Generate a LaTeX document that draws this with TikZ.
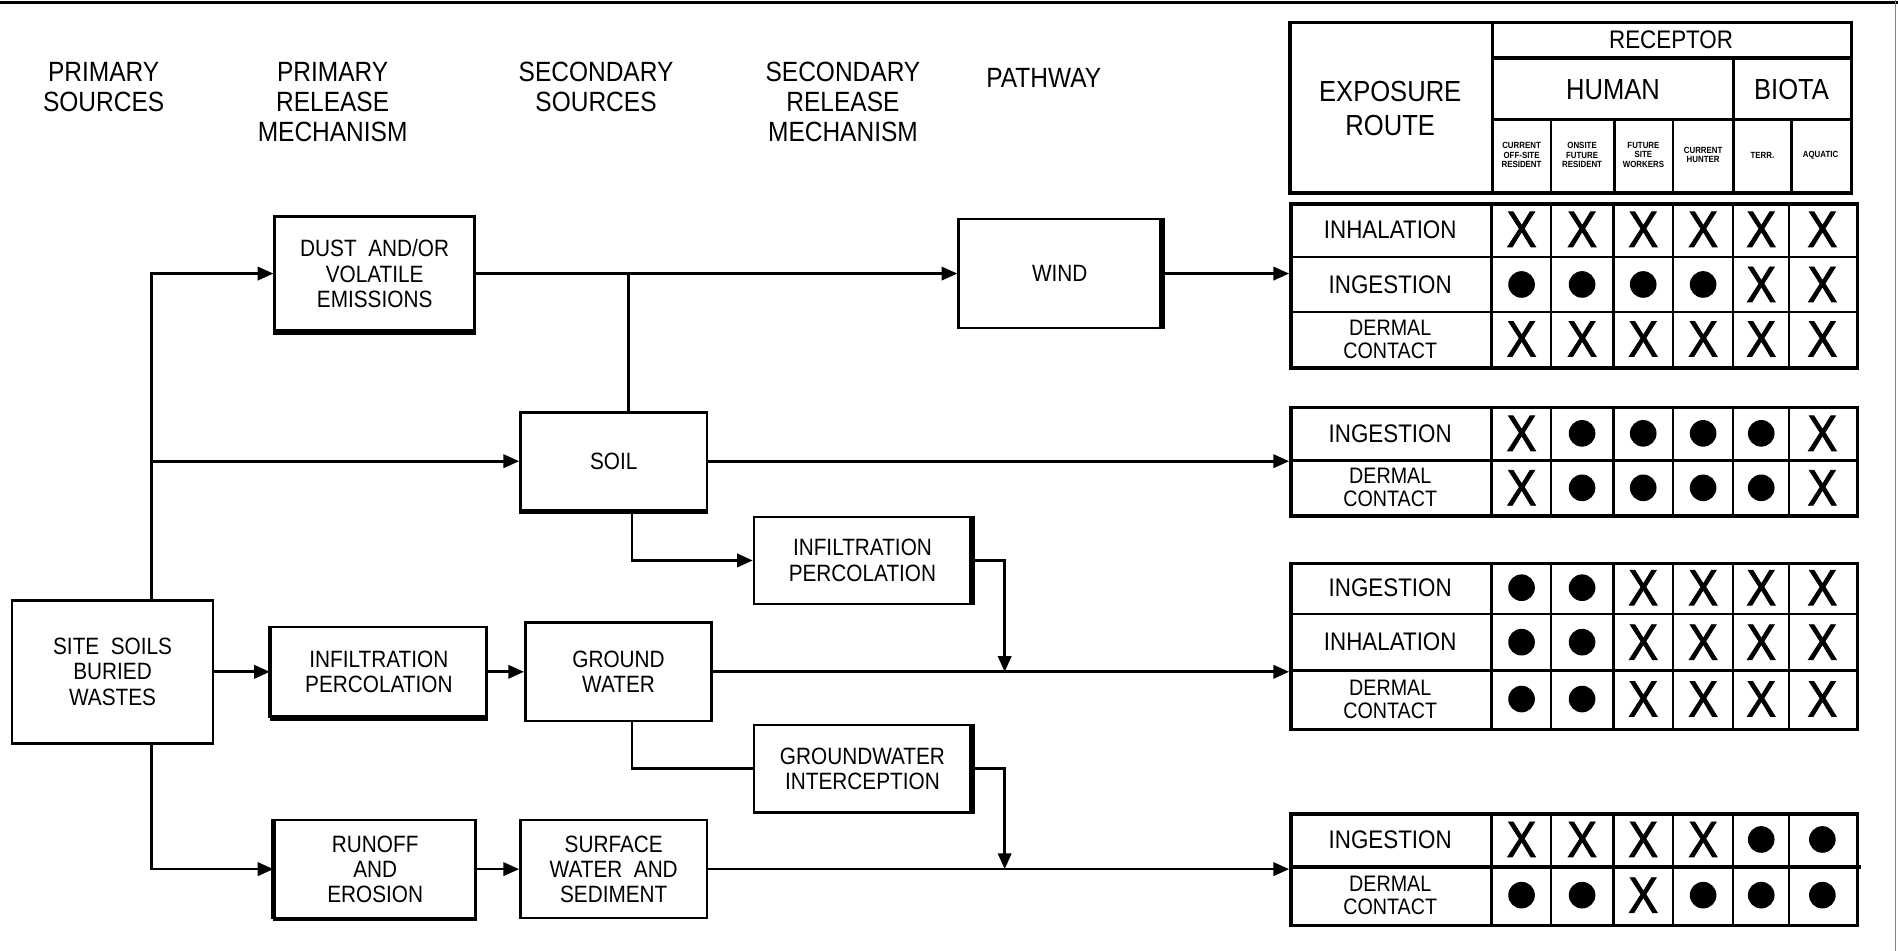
\documentclass[tikz,border=0pt]{standalone}
\usepackage{fontspec}
\setmainfont{Liberation Sans}[FakeStretch=0.88]
\usetikzlibrary{arrows.meta}
\newcommand\mk[4]{\if#4D\node[dotmk] (#1) at (#2,#3) {};\else\node[xmk] (#1) at (#2,#3) {X};\fi}
\newcommand\markrow[8]{\mk{#1a}{1257}{#2}{#3}\mk{#1b}{1307}{#2}{#4}\mk{#1c}{1357.5}{#2}{#5}\mk{#1d}{1407}{#2}{#6}\mk{#1e}{1455}{#2}{#7}\mk{#1f}{1505.5}{#2}{#8}}
\newcommand\tgrid[2]{\draw[line width=2.6pt] (1232,#1) -- (1232,#2);\foreach \xx in {1281,1333,1382,1432,1478} {\draw[gridl] (\xx,#1) -- (\xx,#2);}}
\begin{document}
\begin{tikzpicture}[x=1pt,y=-1pt,
  hdr/.style={align=center,inner sep=0pt,font=\fontsize{23}{24.8}\selectfont},
  box/.style={draw,line width=2.2pt,align=center,inner sep=0pt,font=\fontsize{19.5}{20.8}\selectfont},
  tab/.style={draw,line width=3pt,inner sep=0pt,anchor=north west,minimum width=468pt},
  gridl/.style={line width=1.8pt},
  lbl/.style={align=center,inner sep=0pt,font=\fontsize{21}{21}\selectfont},
  lbls/.style={align=center,inner sep=0pt,font=\fontsize{18.5}{19}\selectfont},
  tiny/.style={align=center,inner sep=0pt,font=\bfseries\fontsize{7.4}{7.6}\selectfont},
  xmk/.style={inner sep=0pt,font=\fontsize{42}{42}\selectfont\addfontfeature{FakeBold=1.6}},
  dotmk/.style={circle,fill=black,minimum width=21pt,minimum height=22pt,inner sep=0pt},
  conn/.style={line width=2.2pt},
  arr/.style={line width=2.2pt,-{Triangle[length=13pt,width=11pt]}},
  thk/.style={line width=4.5pt}]
\useasboundingbox (0,0) rectangle (1568,785.6);
% page frame
\draw[line width=3pt] (0,2) -- (1568,2);
\draw[line width=1pt,gray] (1566,0) -- (1566,785.6);

% column headings
\node[hdr] (h1) at (85.6,71.6) {PRIMARY\\SOURCES};
\node[hdr] (h2) at (274.8,84.3) {PRIMARY\\RELEASE\\MECHANISM};
\node[hdr] (h3) at (492.4,71.6) {SECONDARY\\SOURCES};
\node[hdr] (h4) at (696.4,84.3) {SECONDARY\\RELEASE\\MECHANISM};
\node[hdr] (h5) at (862.3,64.7) {PATHWAY};

% header table
\node[draw,line width=3.2pt,inner sep=0pt,anchor=north west,minimum width=464pt,minimum height=140.5pt] (ht) at (1064,17) {};
\draw[line width=2.6pt] (1233,17) -- (1233,157.5);
\draw[line width=3pt] (1233,48) -- (1528,48);
\draw[line width=2pt] (1233,98.6) -- (1528,98.6);
\draw[line width=2.6pt] (1432,48) -- (1432,157.5);
\foreach \xx in {1281,1382,1480} {\draw[line width=1.8pt] (\xx,98.6) -- (\xx,157.5);}
\draw[line width=2.6pt] (1333.5,98.6) -- (1333.5,157.5);
\node[align=center,inner sep=0pt,font=\fontsize{24}{28}\selectfont] (er) at (1148.5,89.7) {EXPOSURE\\ROUTE};
\node[inner sep=0pt,font=\fontsize{21}{21}\selectfont] (rc) at (1380.5,33) {RECEPTOR};
\node[inner sep=0pt,font=\fontsize{24}{24}\selectfont] (hu) at (1332.5,74) {HUMAN};
\node[inner sep=0pt,font=\fontsize{24}{24}\selectfont] (bi) at (1480,74) {BIOTA};
\node[tiny] (s1) at (1257,128) {CURRENT\\OFF-SITE\\RESIDENT};
\node[tiny] (s2) at (1307,128) {ONSITE\\FUTURE\\RESIDENT};
\node[tiny] (s3) at (1357.7,128) {FUTURE\\SITE\\WORKERS};
\node[tiny] (s4) at (1407,128) {CURRENT\\HUNTER};
\node[tiny] (s5) at (1456,128) {TERR.};
\node[tiny] (s6) at (1504,128) {AQUATIC};

% exposure tables
\node[tab,minimum height=135.5pt] (t1) at (1065,167) {};
\tgrid{167}{302.5}
\draw[gridl] (1065,212) -- (1533,212);
\draw[gridl] (1065,257.5) -- (1533,257.5);
\node[lbl] (l11) at (1148.5,189.5) {INHALATION};
\node[lbl] (l12) at (1148.5,235) {INGESTION};
\node[lbls] (l13) at (1148.5,280) {DERMAL\\CONTACT};
\markrow{ma}{189.5}{X}{X}{X}{X}{X}{X}
\markrow{mb}{235}{D}{D}{D}{D}{X}{X}
\markrow{mc}{280}{X}{X}{X}{X}{X}{X}

\node[tab,minimum height=90pt] (t2) at (1065,335) {};
\tgrid{335}{425}
\draw[line width=3pt] (1065,380.5) -- (1533,380.5);
\node[lbl] (l21) at (1148.5,358) {INGESTION};
\node[lbls] (l22) at (1148.5,403) {DERMAL\\CONTACT};
\markrow{md}{358}{X}{D}{D}{D}{D}{X}
\markrow{me}{403}{X}{D}{D}{D}{D}{X}

\node[tab,minimum height=137pt] (t3) at (1065,464) {};
\tgrid{464}{601}
\draw[gridl] (1065,507) -- (1533,507);
\draw[line width=3pt] (1065,554) -- (1533,554);
\node[lbl] (l31) at (1148.5,485.5) {INGESTION};
\node[lbl] (l32) at (1148.5,530.5) {INHALATION};
\node[lbls] (l33) at (1148.5,577.5) {DERMAL\\CONTACT};
\markrow{mf}{485.5}{D}{D}{X}{X}{X}{X}
\markrow{mg}{530.5}{D}{D}{X}{X}{X}{X}
\markrow{mh}{577.5}{D}{D}{X}{X}{X}{X}

\node[tab,minimum height=92pt] (t4) at (1065,671) {};
\tgrid{671}{763}
\draw[line width=3pt] (1065,716) -- (1537,716);
\node[lbl] (l41) at (1148.5,693.5) {INGESTION};
\node[lbls] (l42) at (1148.5,739.5) {DERMAL\\CONTACT};
\markrow{mi}{693.5}{X}{X}{X}{X}{D}{D}
\markrow{mj}{739.5}{D}{D}{X}{D}{D}{D}

% flow boxes
\node[box,minimum width=166pt,minimum height=118pt] (site) at (93,555) {SITE\ \ SOILS\\BURIED\\WASTES};
\node[box,minimum width=165pt,minimum height=94pt] (dust) at (309.5,226) {DUST\ \ AND/OR\\VOLATILE\\EMISSIONS};
\node[box,minimum width=178pt,minimum height=74pt] (infp) at (313,555) {INFILTRATION\\PERCOLATION};
\node[box,minimum width=166pt,minimum height=81pt] (runoff) at (310,718) {RUNOFF\\AND\\EROSION};
\node[box,minimum width=154pt,minimum height=81pt] (soil) at (507,381) {SOIL};
\node[box,minimum width=154pt,minimum height=81pt] (gw) at (511,555) {GROUND\\WATER};
\node[box,minimum width=154pt,minimum height=81pt] (surf) at (507,718) {SURFACE\\WATER\ \ AND\\SEDIMENT};
\node[box,minimum width=179pt,minimum height=72pt] (inf2) at (712.5,463) {INFILTRATION\\PERCOLATION};
\node[box,minimum width=179pt,minimum height=72pt] (gwi) at (712.5,635) {GROUNDWATER\\INTERCEPTION};
\node[box,minimum width=167pt,minimum height=90pt] (wind) at (875.5,226) {WIND};

% heavier box edges
\draw[thk] (dust.south west) -- (dust.south east);
\draw[thk] (infp.south west) -- (infp.south east);
\draw[line width=3.2pt] (infp.south west) -- (infp.north west);
\draw[thk] (runoff.south west) -- (runoff.north west);
\draw[line width=3.2pt] (runoff.south west) -- (runoff.south east);
\draw[thk] (soil.south west) -- (soil.south east);
\draw[thk] (wind.south east) -- (wind.north east);
\draw[thk] (inf2.south east) -- (inf2.north east);
\draw[thk] (gwi.south east) -- (gwi.north east);

% connectors
\coordinate (jtop) at (125,226);
\coordinate (jbot) at (125,718);
\coordinate (js) at (519,226);
\coordinate (js2) at (522,463);
\coordinate (jg) at (522,635);
\coordinate (ja) at (830,555);
\coordinate (jb) at (830,718);
\draw[arr] (site.north -| jtop) -- (jtop) -- (dust.west);
\draw[arr] (jtop |- soil.west) -- (soil.west);
\draw[arr] (site.south -| jbot) -- (jbot) -- (runoff.west);
\draw[arr] (site.east) -- (infp.west);
\draw[arr] (infp.east) -- (gw.west);
\draw[arr] (runoff.east) -- (surf.west);
\draw[arr] (dust.east) -- (wind.west);
\draw[conn] (js) -- (js |- soil.north);
\draw[arr] (wind.east) -- (t1.west |- wind.east);
\draw[arr] (soil.east) -- (t2.west |- soil.east);
\draw[arr] (js2 |- soil.south) -- (js2) -- (inf2.west);
\draw[arr] (inf2.east) -| (ja);
\draw[arr] (gw.east) -- (t3.west |- gw.east);
\draw[conn] (jg |- gw.south) -- (jg) -- (gwi.west);
\draw[arr] (gwi.east) -| (jb);
\draw[arr] (surf.east) -- (t4.west |- surf.east);
\end{tikzpicture}
\end{document}
